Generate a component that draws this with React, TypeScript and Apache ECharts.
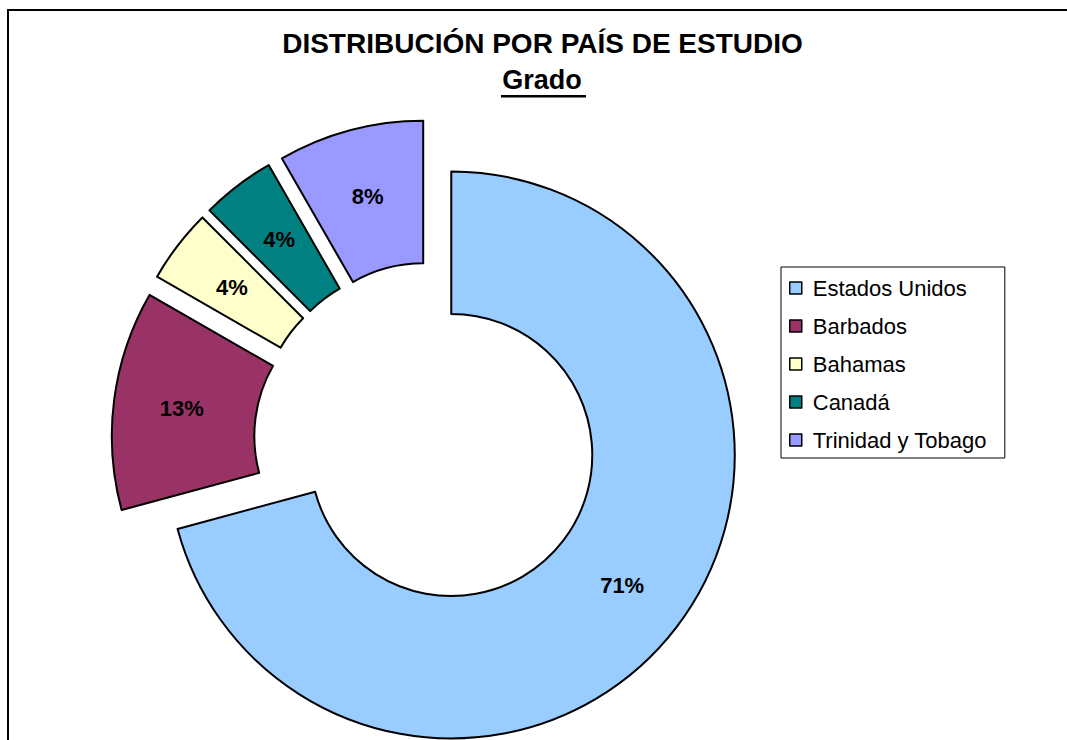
import React, { useEffect, useRef } from 'react';
import * as echarts from 'echarts';

const countries = ['Estados Unidos', 'Barbados', 'Bahamas', 'Canadá', 'Trinidad y Tobago'];
const shares = [70.8, 12.5, 4.2, 4.2, 8.3];
const colors = ['#99CCFF', '#993366', '#FFFFCC', '#008080', '#9999FF'];
const titleText = 'DISTRIBUCIÓN POR PAÍS DE ESTUDIO';
const subtitleText = 'Grado';

const FONT = '"Liberation Sans", Arial, sans-serif';

export default function App() {
  const ref = useRef<HTMLDivElement>(null);
  useEffect(() => {
    document.body.style.margin = '0';
    const chart = echarts.init(ref.current as HTMLDivElement, null, { renderer: 'svg' });

    const makeData = (visible: (i: number) => boolean) =>
      countries.map((name, i) =>
        visible(i)
          ? {
              name,
              value: shares[i],
              selected: true,
              itemStyle: { color: colors[i], borderColor: '#000', borderWidth: 2 },
              label: { show: true },
            }
          : {
              name,
              value: shares[i],
              selected: false,
              itemStyle: { color: 'rgba(0,0,0,0)', borderColor: 'rgba(0,0,0,0)', borderWidth: 0 },
              label: { show: false },
            }
      );

    const base: any = {
      type: 'pie',
      center: [433, 441],
      radius: [141, 283.5],
      startAngle: 90,
      clockwise: true,
      selectedMode: 'multiple',
      avoidLabelOverlap: false,
      label: {
        position: 'inside',
        formatter: (p: any) => Math.round(p.percent) + '%',
        fontSize: 22,
        fontWeight: 'bold',
        color: '#000',
        fontFamily: FONT,
      },
      labelLine: { show: false },
      emphasis: { disabled: true, scale: false },
      select: { itemStyle: { borderColor: '#000', borderWidth: 2 } },
    };

    chart.setOption({
      animation: false,
      backgroundColor: '#fff',
      legend: {
        orient: 'vertical',
        left: 781,
        top: 267,
        padding: [10, 18, 7, 8],
        itemGap: 16,
        itemWidth: 18,
        itemHeight: 12,
        borderColor: '#000',
        borderWidth: 1,
        selectedMode: false,
        icon: 'path://M0,0H12V12H0Z M18,6',
        textStyle: { fontSize: 22, lineHeight: 22, color: '#000', fontFamily: FONT },
        data: countries.map((name, i) => ({
          name,
          itemStyle: { color: colors[i], borderColor: '#000', borderWidth: 1.5 },
        })),
      },
      graphic: [
        { type: 'line', silent: true, shape: { x1: 8, y1: 10, x2: 1067, y2: 10 }, style: { stroke: '#000', lineWidth: 2 } },
        { type: 'line', silent: true, shape: { x1: 8, y1: 9, x2: 8, y2: 740 }, style: { stroke: '#000', lineWidth: 2 } },
        {
          type: 'text',
          x: 542.5,
          y: 43,
          style: { text: titleText, fontSize: 28, fontWeight: 'bold', fontFamily: FONT, fill: '#000', align: 'center', verticalAlign: 'middle' },
        },
        {
          type: 'text',
          x: 542,
          y: 80,
          style: { text: subtitleText, fontSize: 27, fontWeight: 'bold', fontFamily: FONT, fill: '#000', align: 'center', verticalAlign: 'middle' },
        },
        { type: 'rect', silent: true, shape: { x: 501, y: 95, width: 85, height: 2.5 }, style: { fill: '#000' } },
      ],
      series: [
        { ...base, name: 'main', selectedOffset: 23, data: makeData((i) => i === 0) },
        { ...base, name: 'others', selectedOffset: 38, data: makeData((i) => i !== 0) },
      ],
    });

    return () => chart.dispose();
  }, []);

  return <div ref={ref} style={{ width: 1067, height: 740 }} />;
}
